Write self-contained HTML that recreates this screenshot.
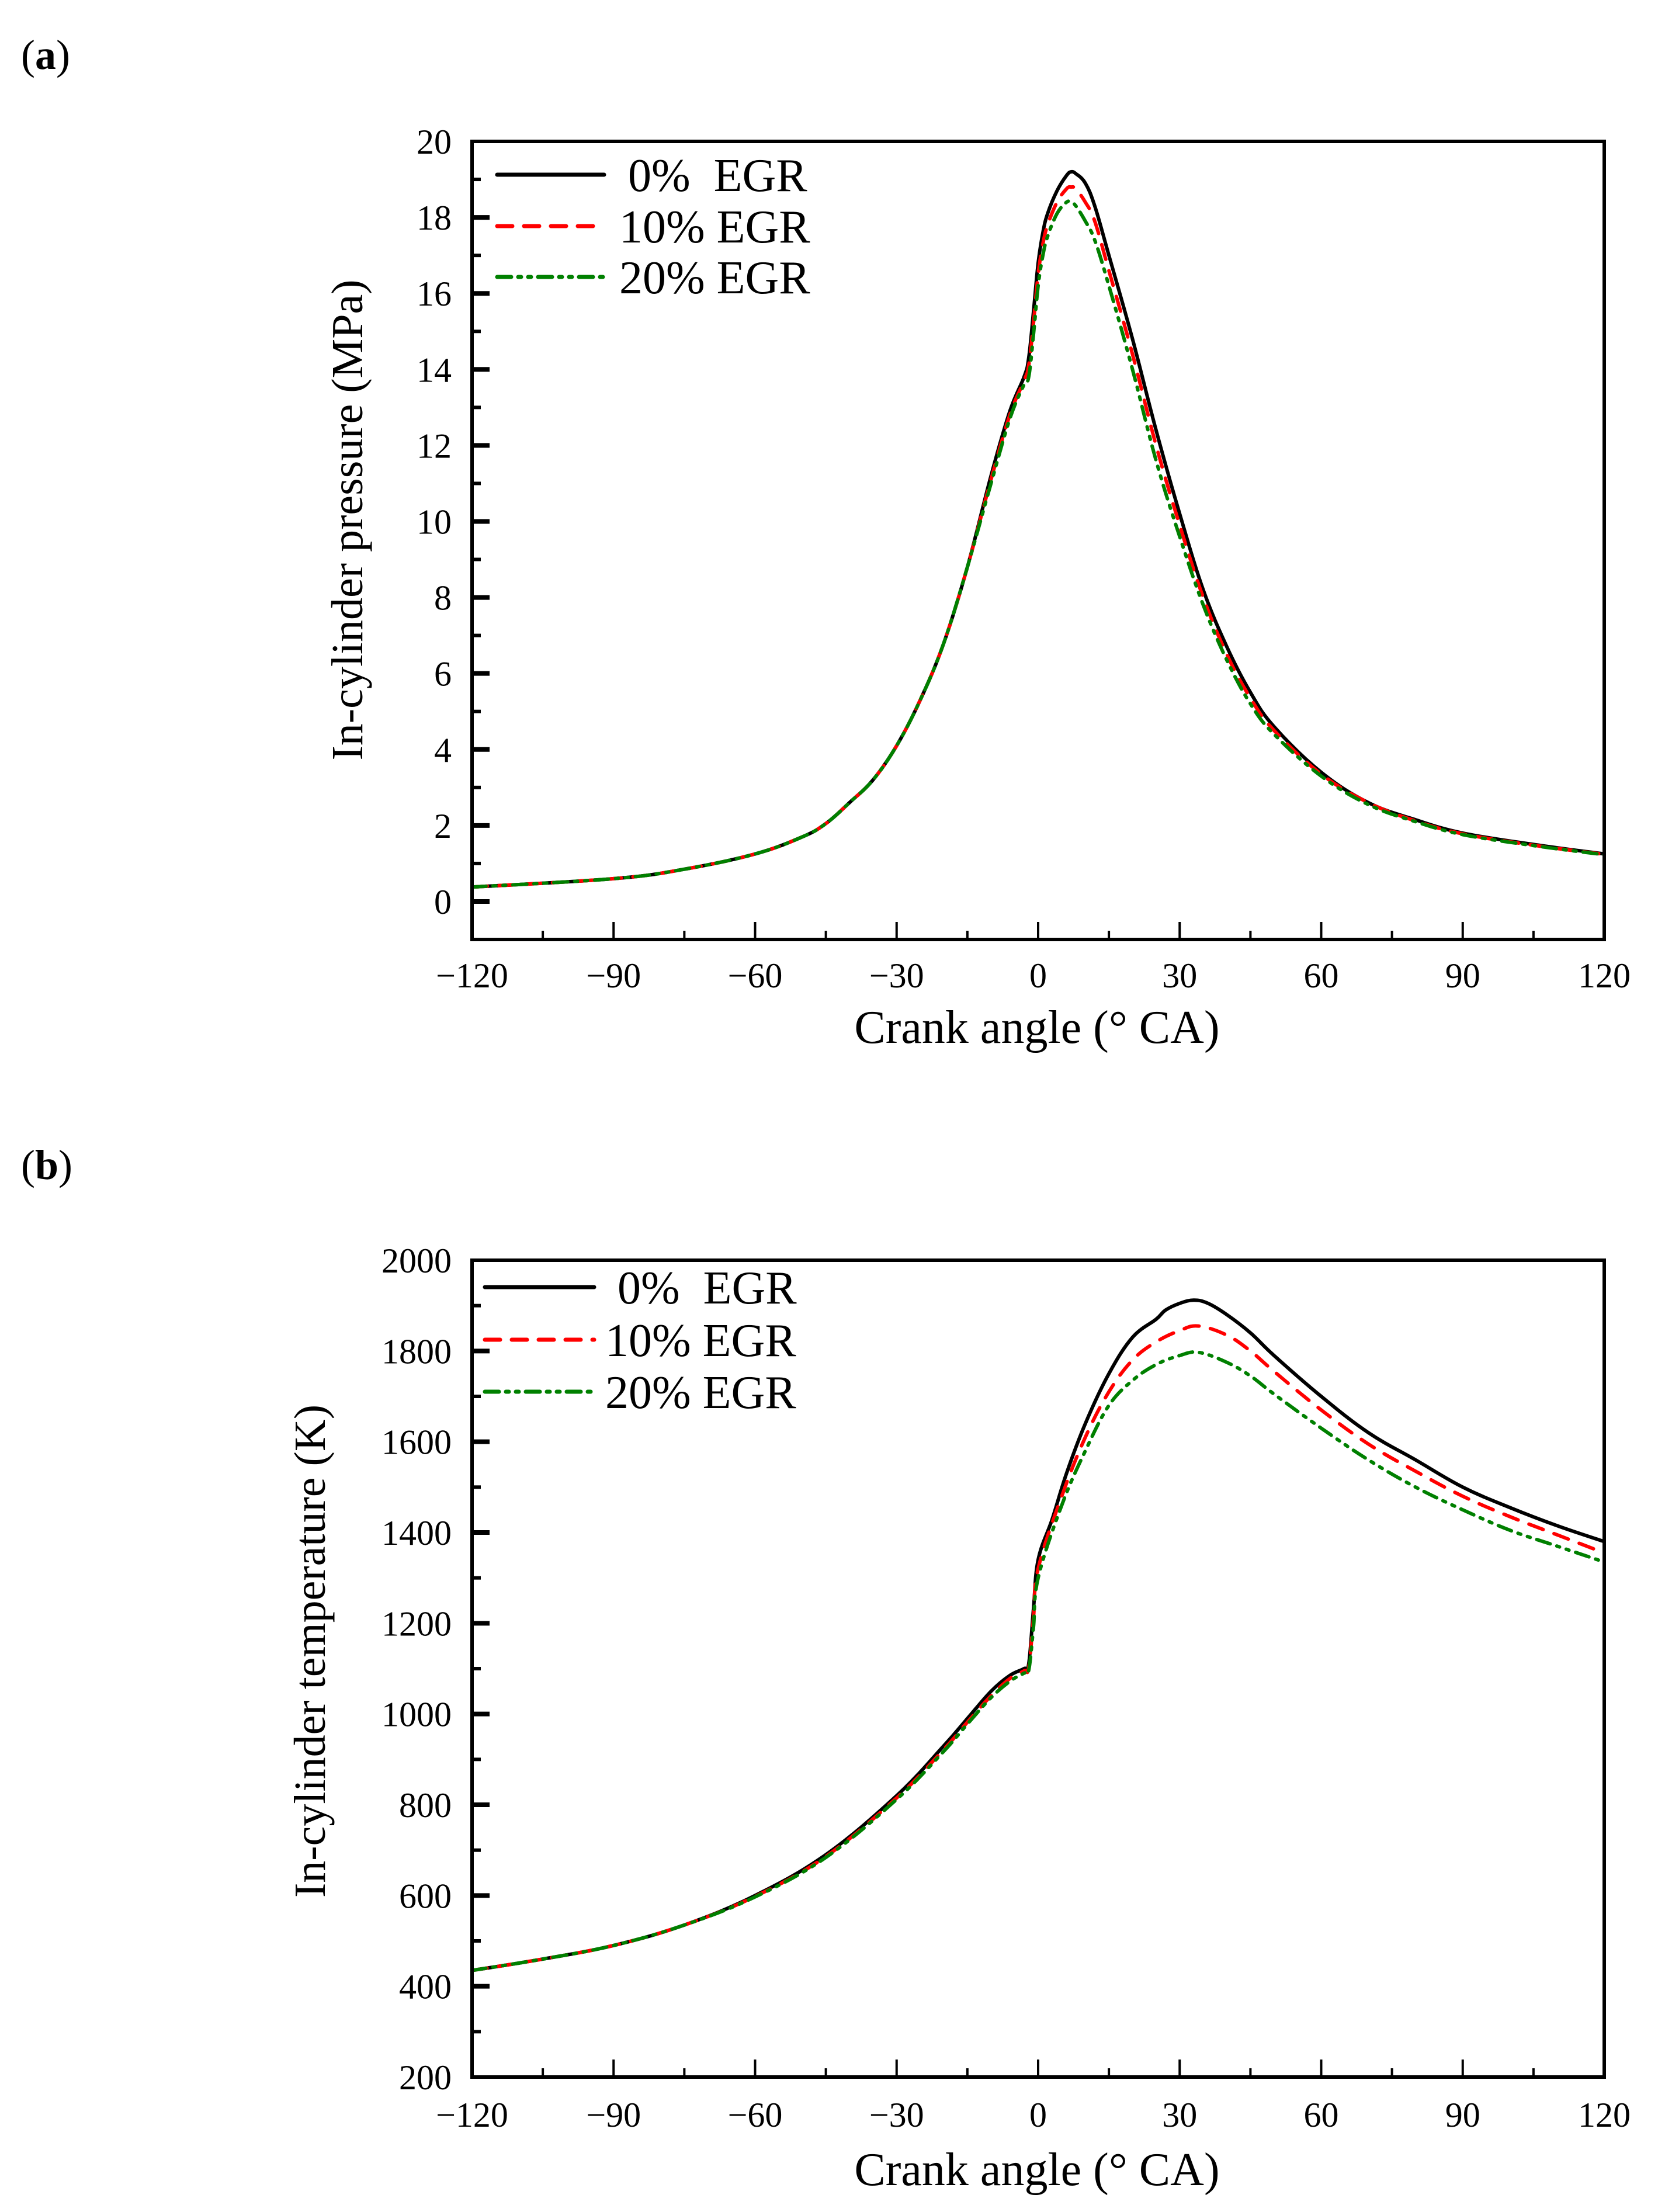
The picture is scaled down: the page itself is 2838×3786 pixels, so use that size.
<!DOCTYPE html>
<html><head><meta charset="utf-8"><style>
html,body{margin:0;padding:0;background:#fff;}
svg{display:block;}
text{font-family:"Liberation Serif",serif;fill:#000;}
</style></head><body>
<svg id="fig" width="2838" height="3786" viewBox="0 0 2838 3786" xmlns="http://www.w3.org/2000/svg">
<text x="36" y="118" font-size="72">(<tspan font-weight="bold">a</tspan>)</text>
<text x="36" y="2018" font-size="72">(<tspan font-weight="bold">b</tspan>)</text>
<g id="pa"></g>
<g id="pb"></g>
</svg>
<script>
// ---- Chart (a) data: in-cylinder pressure (MPa)
const pX0 = [-120,-90,-75,-60,-50,-45,-40,-35,-30,-25,-20,-15,-10,-6,-3,-2,-1,0,1,2,4,6,7,8,10,12,15,20,25,30,35,40,45,50,60,70,80,90,105,120];
const pY0 = [0.38,0.6,0.85,1.25,1.7,2.05,2.6,3.2,4.1,5.3,6.8,8.8,11.2,12.9,13.8,14.3,15.5,16.8,17.6,18.1,18.7,19.1,19.2,19.15,18.9,18.3,17.0,14.8,12.4,10.2,8.2,6.7,5.5,4.6,3.4,2.6,2.15,1.8,1.5,1.25];
const pX10 = [-120,-90,-75,-60,-50,-45,-40,-35,-30,-25,-20,-15,-10,-6,-3,-2,-1,0,1,2,4,6,7,8,10,12,15,20,25,30,35,40,45,50,60,70,80,90,105,120];
const pY10 = [0.38,0.6,0.85,1.25,1.7,2.05,2.6,3.2,4.1,5.3,6.8,8.8,11.1,12.8,13.7,14.1,15.2,16.5,17.3,17.8,18.4,18.75,18.8,18.75,18.4,17.9,16.6,14.4,12.0,9.9,8.0,6.5,5.35,4.5,3.35,2.6,2.12,1.78,1.48,1.24];
const pX20 = [-120,-90,-75,-60,-50,-45,-40,-35,-30,-25,-20,-15,-10,-6,-3,-2,-1,0,1,2,4,6,7,8,10,12,15,20,25,30,35,40,45,50,60,70,80,90,105,120];
const pY20 = [0.38,0.6,0.85,1.25,1.7,2.05,2.6,3.2,4.1,5.3,6.8,8.8,11.0,12.7,13.6,13.8,14.9,16.2,17.0,17.5,18.1,18.4,18.4,18.3,17.9,17.4,16.2,14.0,11.6,9.6,7.8,6.35,5.2,4.4,3.3,2.55,2.1,1.76,1.47,1.23];
// ---- Chart (b) data: in-cylinder temperature (K)
const tX0 = [-120,-105,-90,-75,-60,-45,-30,-20,-15,-10,-6,-3,-2,-1,0,3,6,10,15,20,25,27,30,33,36,40,45,50,60,70,80,90,100,110,120];
const tY0 = [435,460,490,535,600,690,820,930,990,1050,1085,1100,1110,1230,1340,1430,1530,1640,1750,1830,1870,1890,1905,1912,1905,1880,1840,1790,1700,1620,1560,1500,1455,1415,1380];
const tX10 = [-120,-105,-90,-75,-60,-45,-30,-20,-15,-10,-6,-3,-2,-1,0,5,10,15,20,25,30,34,40,45,50,60,70,80,90,100,110,120];
const tY10 = [435,460,490,535,598,686,815,922,982,1040,1078,1095,1102,1210,1320,1480,1610,1710,1780,1820,1845,1855,1835,1800,1755,1670,1595,1535,1480,1435,1395,1355];
const tX20 = [-120,-105,-90,-75,-60,-45,-30,-20,-15,-10,-6,-3,-2,-1,0,5,10,15,20,25,30,34,40,45,50,60,70,80,90,100,110,120];
const tY20 = [435,460,490,535,597,684,812,918,978,1036,1072,1090,1096,1190,1300,1460,1580,1680,1735,1770,1790,1797,1775,1745,1705,1630,1560,1500,1450,1405,1370,1335];
const xTicks = [-120,-90,-60,-30,0,30,60,90,120];
const xTickLabels = ["\u2212120","\u221290","\u221260","\u221230","0","30","60","90","120"];
const pYTicks = [0,2,4,6,8,10,12,14,16,18,20];
const tYTicks = [200,400,600,800,1000,1200,1400,1600,1800,2000];
const legendLabels = ["0%\u00a0 EGR","10% EGR","20% EGR"];

const NS="http://www.w3.org/2000/svg";
function mk(parent,tag,attrs){const e=document.createElementNS(NS,tag);for(const k in attrs)e.setAttribute(k,attrs[k]);parent.appendChild(e);return e;}

const styles=[{stroke:"#000",dash:""},{stroke:"#ff0000",dash:"26 20"},{stroke:"#008000",dash:"24 12 5 12 5 12"}];

function smoothPath(pts){
  let d="M"+pts[0][0].toFixed(1)+","+pts[0][1].toFixed(1);
  for(let i=0;i<pts.length-1;i++){
    const p0=pts[Math.max(0,i-1)],p1=pts[i],p2=pts[i+1],p3=pts[Math.min(pts.length-1,i+2)];
    const t=0.18;
    const c1=[p1[0]+(p2[0]-p0[0])*t,p1[1]+(p2[1]-p0[1])*t];
    const c2=[p2[0]-(p3[0]-p1[0])*t,p2[1]-(p3[1]-p1[1])*t];
    d+="C"+c1[0].toFixed(1)+","+c1[1].toFixed(1)+" "+c2[0].toFixed(1)+","+c2[1].toFixed(1)+" "+p2[0].toFixed(1)+","+p2[1].toFixed(1);
  }
  return d;
}

function chart(g,cfg){
  const L=808,R=2746,T=cfg.top,B=cfg.bot;
  const sx=v=>L+(v+120)/240*(R-L);
  const sy=v=>B-(v-cfg.ymin)/(cfg.ymax-cfg.ymin)*(B-T);
  cfg.series.forEach((s,i)=>{
    const pts=s.x.map((xv,j)=>[sx(xv),sy(s.y[j])]);
    const p=mk(g,"path",{d:smoothPath(pts),fill:"none",stroke:styles[i].stroke,"stroke-width":6,"stroke-linejoin":"round","stroke-linecap":"round"});
    if(styles[i].dash)p.setAttribute("stroke-dasharray",styles[i].dash);
    
    
  });
  const fr=mk(g,"rect",{x:L,y:T,width:R-L,height:B-T,fill:"none",stroke:"#000","stroke-width":6});
  
  
  for(let v=-105;v<120;v+=15){
    const major=(v%30===0);
    const t=mk(g,"line",{x1:sx(v),x2:sx(v),y1:B,y2:B-(major?30:15),stroke:"#000","stroke-width":4});
    
    
  }
  xTicks.forEach((v,i)=>{
    const t=mk(g,"text",{x:sx(v),y:cfg.xlabY,"font-size":60,"text-anchor":"middle"});
    t.textContent=xTickLabels[i];
    
    
  });
  for(let v=cfg.ymin;v<=cfg.ymax;v+=cfg.minor){
    if(v<=cfg.ymin||v>=cfg.ymax) continue;
    const major=(Math.abs((v/cfg.major)-Math.round(v/cfg.major))<1e-6);
    const t=mk(g,"line",{x1:L,x2:L+(major?30:15),y1:sy(v),y2:sy(v),stroke:"#000","stroke-width":major?8:6});
    
    
  }
  cfg.yticks.forEach(v=>{
    const t=mk(g,"text",{x:773,y:sy(v)+21,"font-size":60,"text-anchor":"end"});
    t.textContent=String(v);
    
    
  });
  const xt=mk(g,"text",{x:1775,y:cfg.xtitleY,"font-size":80,"text-anchor":"middle"});
  xt.textContent="Crank angle (\u00b0 CA)";
  
  
  const yt=mk(g,"text",{x:0,y:0,"font-size":cfg.ytitleSize,"text-anchor":"middle",transform:"translate("+cfg.ytitleX+","+cfg.ytitleY+") rotate(-90)"});
  yt.textContent=cfg.ytitle;
  
  
  cfg.leg.rows.forEach((ry,i)=>{
    const ln=mk(g,"line",{x1:cfg.leg.x1,x2:cfg.leg.x2,y1:ry,y2:ry,stroke:styles[i].stroke,"stroke-width":7,"stroke-linecap":"round"});
    if(styles[i].dash)ln.setAttribute("stroke-dasharray",styles[i].dash);
    
    
    const tx=mk(g,"text",{x:i===0?cfg.leg.tx0:cfg.leg.tx,y:ry+28,"font-size":80});
    tx.textContent=legendLabels[i];
    
    
  });
}

chart(document.getElementById("pa"),{top:242,bot:1608,ymin:-1,ymax:20,major:2,minor:1,yticks:pYTicks,
  xlabY:1690,xtitleY:1785,ytitleX:620,ytitleY:890,ytitleSize:76,ytitle:"In-cylinder pressure  (MPa)",
  leg:{x1:851,x2:1034,rows:[299,387,474],tx0:1075,tx:1060},
  series:[{name:"0-egr",x:pX0,y:pY0},{name:"10-egr",x:pX10,y:pY10},{name:"20-egr",x:pX20,y:pY20}]});
chart(document.getElementById("pb"),{top:2157,bot:3555,ymin:200,ymax:2000,major:200,minor:100,yticks:tYTicks,
  xlabY:3640,xtitleY:3740,ytitleX:556,ytitleY:2826,ytitleSize:76,ytitle:"In-cylinder temperature  (K)",
  leg:{x1:830,x2:1017,rows:[2203,2293,2382],tx0:1057,tx:1036},
  series:[{name:"0-egr",x:tX0,y:tY0},{name:"10-egr",x:tX10,y:tY10},{name:"20-egr",x:tX20,y:tY20}]});
</script>
</body></html>
